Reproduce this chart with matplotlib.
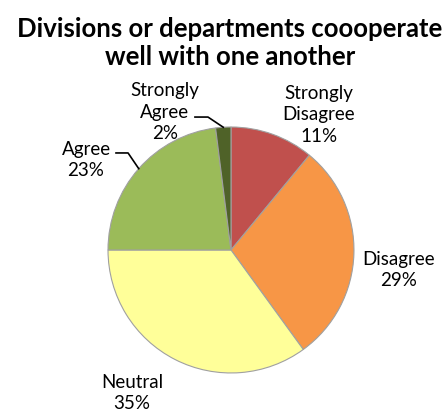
import numpy as np
import matplotlib.pyplot as plt

# survey responses, percent
categories = ['Strongly\nDisagree', 'Disagree', 'Neutral', 'Agree', 'Strongly\nAgree']
values = [11, 29, 35, 23, 2]
colors = ['#C0504D', '#F79646', '#FFFF99', '#9BBB59', '#4F6228']
title = 'Divisions or departments coooperate\nwell with one another'

plt.rcParams['font.family'] = ['Lato', 'DejaVu Sans']

fig = plt.figure(figsize=(4.48, 4.13), dpi=100)
ax = fig.add_axes([0.2411, 0.0969, 0.549, 0.5956])

wedges, _ = ax.pie(values, colors=colors, startangle=90, counterclock=False,
                   wedgeprops=dict(edgecolor='#a0a0a0', linewidth=0.8))
ax.set_xlim(-1, 1)
ax.set_ylim(-1, 1)
ax.set_aspect('equal')

# label centres in axes data units
label_pos = [(0.715, 1.098), (1.366, -0.163), (-0.805, -1.163),
             (-1.179, 0.732), (-0.537, 1.122)]
for cat, v, (x, y) in zip(categories, values, label_pos):
    ax.text(x, y, f'{cat}\n{v}%', ha='center', va='center', fontsize=13.5,
            linespacing=1.3, clip_on=False)

# leader lines for the two labels on the upper left
leaders = {3: [(-0.935, 0.789), (-0.837, 0.789)],
           4: [(-0.293, 1.081), (-0.187, 1.081)]}
for i, pts in leaders.items():
    w = wedges[i]
    mid = np.deg2rad((w.theta1 + w.theta2) / 2)
    xs = [p[0] for p in pts] + [np.cos(mid)]
    ys = [p[1] for p in pts] + [np.sin(mid)]
    ax.plot(xs, ys, color='black', linewidth=1.2, clip_on=False)

fig.text(0.513, 0.895, title, ha='center', va='center', fontsize=18.5,
         fontweight='bold', linespacing=1.2)

fig.savefig('out.png', dpi=100)
